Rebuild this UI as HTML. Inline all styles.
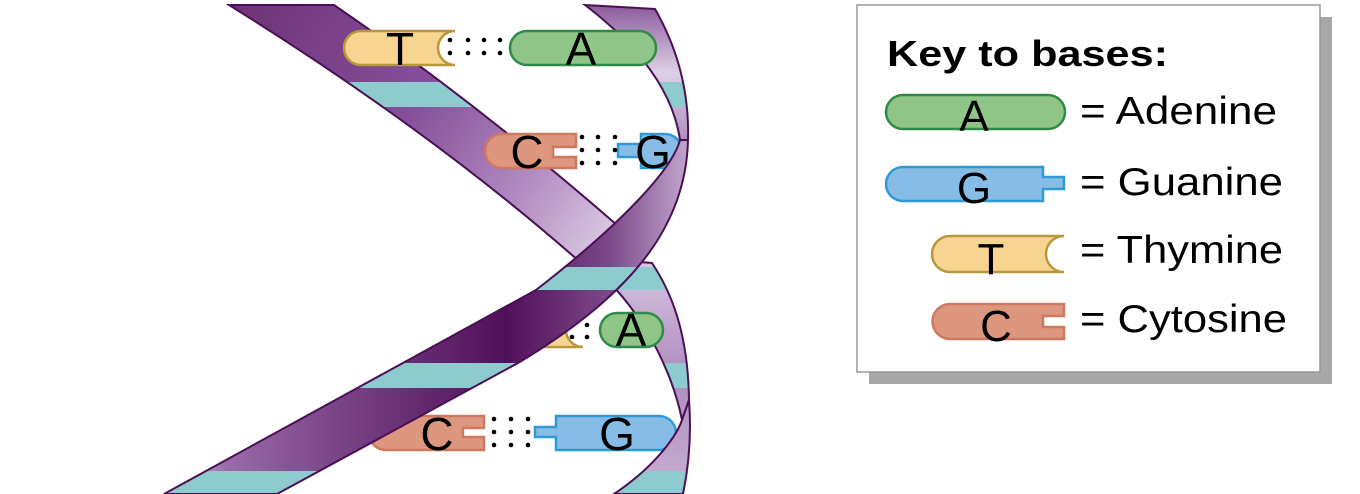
<!DOCTYPE html>
<html><head><meta charset="utf-8"><style>
html,body{margin:0;padding:0;background:#fff;}
svg{display:block;font-family:"Liberation Sans",Arial,sans-serif;}
</style></head><body>
<svg width="1360" height="494" viewBox="0 0 1360 494" xmlns="http://www.w3.org/2000/svg">
<defs>
<linearGradient id="g1" x1="229" y1="5" x2="625" y2="260" gradientUnits="userSpaceOnUse">
<stop offset="0" stop-color="#6c3277"/><stop offset="0.45" stop-color="#85509a"/><stop offset="0.75" stop-color="#b38fc2"/><stop offset="1" stop-color="#e4d8ea"/></linearGradient>
<linearGradient id="g2" x1="164" y1="0" x2="690" y2="0" gradientUnits="userSpaceOnUse">
<stop offset="0" stop-color="#dccbe4"/><stop offset="0.12" stop-color="#9a6aa9"/><stop offset="0.3" stop-color="#7d4a8b"/><stop offset="0.65" stop-color="#520f5a"/><stop offset="0.85" stop-color="#7c4a8a"/><stop offset="1" stop-color="#c3a9ce"/></linearGradient>
<linearGradient id="g3" x1="0" y1="5" x2="0" y2="140" gradientUnits="userSpaceOnUse">
<stop offset="0" stop-color="#8a5a9b"/><stop offset="0.5" stop-color="#ddd0e6"/><stop offset="1" stop-color="#b18fc0"/></linearGradient>
<linearGradient id="g4" x1="0" y1="257" x2="0" y2="494" gradientUnits="userSpaceOnUse">
<stop offset="0" stop-color="#d8c8e2"/><stop offset="0.5" stop-color="#b08bbf"/><stop offset="1" stop-color="#c7b0d2"/></linearGradient>
<path id="s1" d="M229,5 L334,5 Q480,105 625,232 L580,262 Q430,130 229,5 Z"/>
<path id="s2" d="M688,140 C686,220 640,290 518,363 L277,494 L164,494 L536,290 C620,225 672,170 680,140 Z"/>
<path id="s3" d="M585,5 L655,9 Q690,70 688,140 L680,140 Q670,70 585,5 Z"/>
<path id="s4" d="M578,257 C630,290 670,360 682,420 L689,400 C688,330 670,290 652,263 Z"/>
<path id="s5" d="M682,420 L689,400 C692,440 688,470 683,494 L614,494 C650,470 675,440 682,420 Z"/>
<clipPath id="c1"><use href="#s1"/></clipPath>
<clipPath id="c2"><use href="#s2"/></clipPath>
<clipPath id="c3"><use href="#s3"/></clipPath>
<clipPath id="c4"><use href="#s4"/></clipPath>
<clipPath id="c5"><use href="#s5"/></clipPath>
<g id="bands" fill="#8ecbcf">
<rect x="0" y="82" width="1360" height="25"/>
<rect x="0" y="267" width="1360" height="23"/>
<rect x="0" y="363" width="1360" height="25"/>
<rect x="0" y="471" width="1360" height="23"/>
</g>
</defs>

<use href="#s1" fill="url(#g1)"/>
<use href="#bands" clip-path="url(#c1)"/>
<use href="#s1" fill="none" stroke="#4a0f55" stroke-width="2"/>
<use href="#s4" fill="url(#g4)"/>
<use href="#bands" clip-path="url(#c4)"/>
<use href="#s4" fill="none" stroke="#4a0f55" stroke-width="2"/>

<g stroke-width="2.5">
<path d="M361,31 H455 A17,17 0 0 0 455,65 H361 A17,17 0 0 1 361,31 Z" fill="#f7d48f" stroke="#b8983a"/>
<path d="M502,134 H576 V147 H553 V157 H576 V168 H502 A17,17 0 0 1 502,134 Z" fill="#dd977e" stroke="#cf7860"/>
<path d="M641,134 H665 A17,17 0 0 1 665,168 H641 V157 H618 V144 H641 Z" fill="#86bce6" stroke="#2e9bd6"/>
<path d="M530,313 H583 A17,17 0 0 0 583,347 H530 Z" fill="#f7d48f" stroke="#b8983a"/>
<rect x="600" y="313" width="63" height="34" rx="17" fill="#8fc587" stroke="#2e8b4a"/>
<path d="M386,416 H484 V428 H463 V437 H484 V450 H386 A17,17 0 0 1 386,416 Z" fill="#dd977e" stroke="#cf7860"/>
<path d="M556,416 H659 A17,17 0 0 1 659,450 H556 V437 H535 V427 H556 Z" fill="#86bce6" stroke="#2e9bd6"/>
</g>
<g fill="#000">
<circle cx="450" cy="40" r="2.3"/><circle cx="468" cy="40" r="2.3"/><circle cx="484" cy="40" r="2.3"/><circle cx="500" cy="40" r="2.3"/>
<circle cx="450" cy="53" r="2.3"/><circle cx="468" cy="53" r="2.3"/><circle cx="484" cy="53" r="2.3"/><circle cx="500" cy="53" r="2.3"/>
<circle cx="582" cy="137" r="2.3"/><circle cx="598" cy="137" r="2.3"/><circle cx="615" cy="137" r="2.3"/>
<circle cx="582" cy="150" r="2.3"/><circle cx="598" cy="150" r="2.3"/><circle cx="615" cy="150" r="2.3"/>
<circle cx="582" cy="163" r="2.3"/><circle cx="598" cy="163" r="2.3"/><circle cx="615" cy="163" r="2.3"/>
<circle cx="572" cy="325" r="2.3"/><circle cx="587" cy="325" r="2.3"/>
<circle cx="572" cy="337" r="2.3"/><circle cx="587" cy="337" r="2.3"/>
<circle cx="494" cy="419" r="2.3"/><circle cx="511" cy="419" r="2.3"/><circle cx="528" cy="419" r="2.3"/>
<circle cx="494" cy="432" r="2.3"/><circle cx="511" cy="432" r="2.3"/><circle cx="528" cy="432" r="2.3"/>
<circle cx="494" cy="445" r="2.3"/><circle cx="511" cy="445" r="2.3"/><circle cx="528" cy="445" r="2.3"/>
</g>
<g font-size="46" text-anchor="middle" fill="#000">
<text x="400" y="65">T</text>
<text x="527" y="168">C</text>
<text x="653" y="168">G</text>
<text x="631" y="346">A</text>
<text x="437" y="450">C</text>
<text x="617" y="450">G</text>
</g>

<use href="#s2" fill="url(#g2)"/>
<use href="#bands" clip-path="url(#c2)"/>
<use href="#s2" fill="none" stroke="#4a0f55" stroke-width="2"/>
<use href="#s3" fill="url(#g3)"/>
<use href="#bands" clip-path="url(#c3)"/>
<use href="#s3" fill="none" stroke="#4a0f55" stroke-width="2"/>
<use href="#s5" fill="url(#g4)"/>
<use href="#bands" clip-path="url(#c5)"/>
<use href="#s5" fill="none" stroke="#4a0f55" stroke-width="2"/>

<rect x="510" y="31" width="146" height="34" rx="17" fill="#8fc587" stroke="#2e8b4a" stroke-width="2.5"/>
<text x="581" y="65" font-size="46" text-anchor="middle">A</text>

<rect x="869" y="17" width="463" height="367" fill="#a7a7a7"/>
<rect x="857" y="5" width="463" height="367" fill="#fff" stroke="#999" stroke-width="1.5"/>
<text x="887" y="66" font-size="36" font-weight="bold" textLength="281" lengthAdjust="spacingAndGlyphs">Key to bases:</text>
<g stroke-width="2.5">
<rect x="886" y="95" width="179" height="34" rx="17" fill="#8fc587" stroke="#2e8b4a"/>
<path d="M903,167 H1043 V177 H1064 V189 H1043 V201 H903 A17,17 0 0 1 903,167 Z" fill="#86bce6" stroke="#2e9bd6"/>
<path d="M950,236 H1064 A18,18 0 0 0 1064,272 H950 A18,18 0 0 1 950,236 Z" fill="#f7d48f" stroke="#b8983a"/>
<path d="M950,304 H1064 V316 H1043 V327 H1064 V339 H950 A17,17 0 0 1 950,304 Z" fill="#dd977e" stroke="#cf7860"/>
</g>
<g font-size="44" text-anchor="middle">
<text x="974" y="131">A</text>
<text x="974" y="203">G</text>
<text x="991" y="274">T</text>
<text x="996" y="341">C</text>
</g>
<g font-size="39">
<text x="1080" y="124" textLength="197" lengthAdjust="spacingAndGlyphs">= Adenine</text>
<text x="1080" y="195" textLength="203" lengthAdjust="spacingAndGlyphs">= Guanine</text>
<text x="1080" y="263" textLength="203" lengthAdjust="spacingAndGlyphs">= Thymine</text>
<text x="1080" y="332" textLength="207" lengthAdjust="spacingAndGlyphs">= Cytosine</text>
</g>
</svg>
</body></html>
